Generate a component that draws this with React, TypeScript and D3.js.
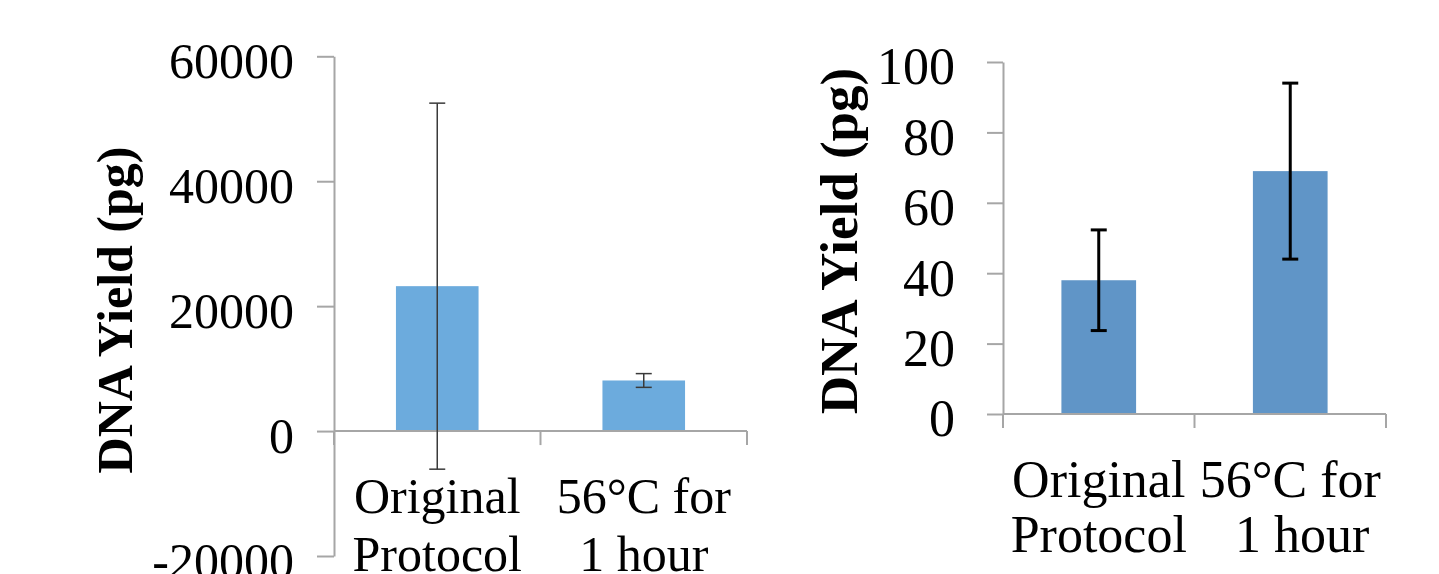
import React, { useEffect, useRef } from 'react';
import * as d3 from 'd3';

const categories = ['Original Protocol', '56°C for 1 hour'];
const labelLines = [
  ['Original', 'Protocol'],
  ['56°C for', '1 hour'],
];
const yTitle = 'DNA Yield (pg)';

// left panel
const leftMeans = [23200, 8100];
const leftErrors = [29300, 1100];
const leftTicks = [-20000, 0, 20000, 40000, 60000];

// right panel
const rightMeans = [38, 69];
const rightErrors = [14.3, 25];
const rightTicks = [0, 20, 40, 60, 80, 100];
// ————————————————————

const W = 1439;
const H = 574;
const FONT = '"Liberation Serif", "Times New Roman", serif';
const AXIS_COLOR = '#a6a6a6';

const App = () => {
  const svgRef = useRef(null);

  useEffect(() => {
    const svg = d3.select(svgRef.current);
    svg.selectAll('*').remove();

    drawPanel(svg, {
      left: 334, right: 747, top: 56.3, bottom: 556,
      domain: [-20000, 60000], ticks: leftTicks,
      means: leftMeans, errors: leftErrors,
      barColor: '#6cabdd', barFrac: 0.4,
      errColor: '#3a3a3a', errWidth: 1.5,
      tickSize: 17, tickPad: 23,
      fontSize: 50, titleSize: 50,
      titleX: 132, titleY: 310,
      labelY: 513, lineGap: 58, line2Shift: [0, 0],
    });

    drawPanel(svg, {
      left: 1003, right: 1386, top: 62, bottom: 414,
      domain: [0, 100], ticks: rightTicks,
      means: rightMeans, errors: rightErrors,
      barColor: '#6095c7', barFrac: 0.39,
      errColor: '#000', errWidth: 3,
      tickSize: 16, tickPad: 32,
      fontSize: 52, titleSize: 53,
      titleX: 857, titleY: 241,
      labelY: 497, lineGap: 55, line2Shift: [0, 12],
    });
  }, []);

  function drawPanel(svg, c) {
    const g = svg.append('g');

    const x = d3.scaleBand()
      .domain(categories)
      .range([c.left, c.right])
      .padding(0);
    const y = d3.scaleLinear()
      .domain(c.domain)
      .range([c.bottom, c.top]);

    // bars
    const bw = x.bandwidth() * c.barFrac;
    g.selectAll('rect.bar')
      .data(categories)
      .join('rect')
        .attr('class', 'bar')
        .attr('x', d => x(d) + (x.bandwidth() - bw) / 2)
        .attr('y', (_, i) => y(Math.max(0, c.means[i])))
        .attr('width', bw)
        .attr('height', (_, i) => Math.abs(y(c.means[i]) - y(0)))
        .attr('fill', c.barColor);

    // y axis
    const yAxis = g.append('g')
      .attr('transform', `translate(${c.left},0)`)
      .call(d3.axisLeft(y)
        .tickValues(c.ticks)
        .tickSize(c.tickSize)
        .tickSizeOuter(0)
        .tickPadding(c.tickPad)
        .tickFormat(d => String(d)));
    yAxis.select('.domain')
      .attr('stroke', AXIS_COLOR)
      .attr('stroke-width', 2);
    yAxis.selectAll('.tick line')
      .attr('stroke', AXIS_COLOR)
      .attr('stroke-width', 2);
    yAxis.selectAll('.tick text')
      .attr('dy', '0.42em')
      .attr('fill', '#000')
      .style('font-family', FONT)
      .style('font-size', `${c.fontSize}px`);

    // x axis with ticks between categories
    const y0 = y(0);
    g.append('line')
      .attr('x1', c.left).attr('x2', c.right)
      .attr('y1', y0).attr('y2', y0)
      .attr('stroke', AXIS_COLOR)
      .attr('stroke-width', 2);
    const edges = categories.map(d => x(d)).concat([c.right]);
    g.selectAll('line.xtick')
      .data(edges)
      .join('line')
        .attr('class', 'xtick')
        .attr('x1', d => d).attr('x2', d => d)
        .attr('y1', y0).attr('y2', y0 + 14)
        .attr('stroke', AXIS_COLOR)
        .attr('stroke-width', 2);

    // error bars
    const cap = 8;
    categories.forEach((cat, i) => {
      const cx = x(cat) + x.bandwidth() / 2;
      const hi = y(c.means[i] + c.errors[i]);
      const lo = y(c.means[i] - c.errors[i]);
      const eg = g.append('g')
        .attr('stroke', c.errColor)
        .attr('stroke-width', c.errWidth);
      eg.append('line').attr('x1', cx).attr('x2', cx).attr('y1', hi).attr('y2', lo);
      eg.append('line').attr('x1', cx - cap).attr('x2', cx + cap).attr('y1', hi).attr('y2', hi);
      eg.append('line').attr('x1', cx - cap).attr('x2', cx + cap).attr('y1', lo).attr('y2', lo);
    });

    // category labels (two lines each)
    categories.forEach((cat, i) => {
      const cx = x(cat) + x.bandwidth() / 2;
      labelLines[i].forEach((line, j) => {
        g.append('text')
          .attr('x', cx + (j === 1 ? c.line2Shift[i] : 0))
          .attr('y', c.labelY + j * c.lineGap)
          .attr('text-anchor', 'middle')
          .style('font-family', FONT)
          .style('font-size', `${c.fontSize}px`)
          .text(line);
      });
    });

    // y title
    g.append('text')
      .attr('transform', `translate(${c.titleX},${c.titleY}) rotate(-90)`)
      .attr('text-anchor', 'middle')
      .style('font-family', FONT)
      .style('font-size', `${c.titleSize}px`)
      .style('font-weight', 'bold')
      .text(yTitle);
  }

  return (
    <div style={{ position: 'absolute', left: 0, top: 0, width: W, height: H, background: '#fff' }}>
      <svg ref={svgRef} width={W} height={H} style={{ display: 'block' }} />
    </div>
  );
};

export default App;
